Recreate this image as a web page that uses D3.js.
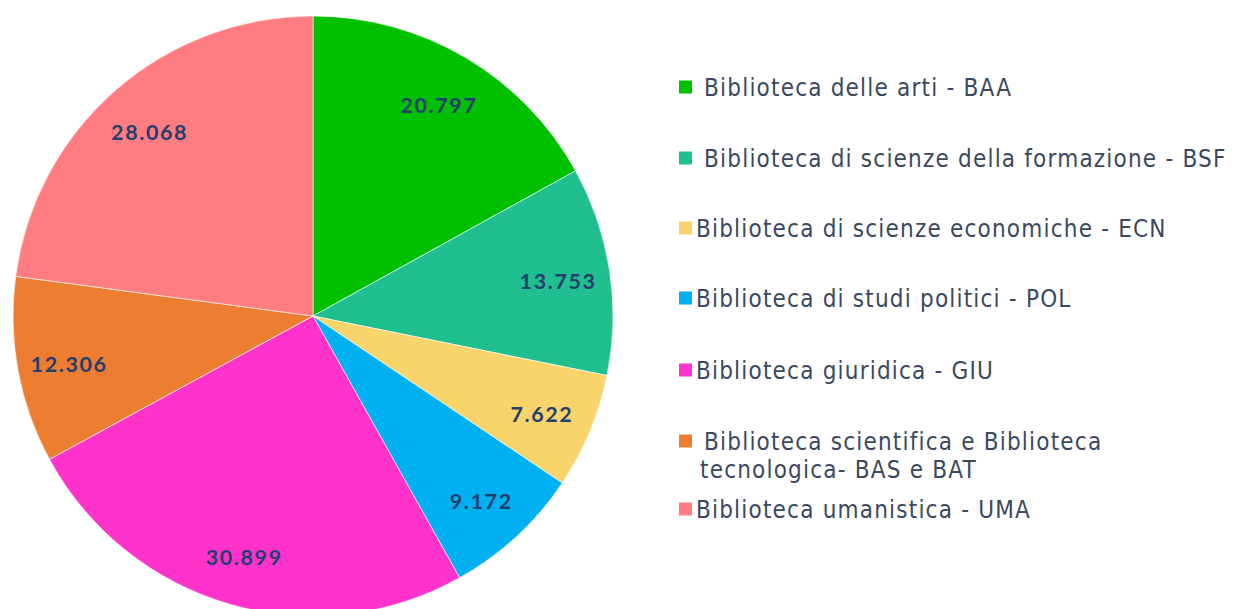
<!DOCTYPE html>
<html><head><meta charset="utf-8">
<script src="https://cdn.jsdelivr.net/npm/d3@7"></script>
<style>body{margin:0;background:#fff;}svg{display:block;}</style>
</head><body>
<svg id="c" width="1234" height="609"></svg>
<script>
const categories = [
  "Biblioteca delle arti - BAA",
  "Biblioteca di scienze della formazione - BSF",
  "Biblioteca di scienze economiche - ECN",
  "Biblioteca di studi politici - POL",
  "Biblioteca giuridica - GIU",
  "Biblioteca scientifica e Biblioteca tecnologica- BAS e BAT",
  "Biblioteca umanistica - UMA"
];
const legendLines = [
  [" Biblioteca delle arti - BAA"],
  [" Biblioteca di scienze della formazione - BSF"],
  ["Biblioteca di scienze economiche - ECN"],
  ["Biblioteca di studi politici - POL"],
  ["Biblioteca giuridica - GIU"],
  [" Biblioteca scientifica e Biblioteca", "tecnologica- BAS e BAT"],
  ["Biblioteca umanistica - UMA"]
];
const values = [20797, 13753, 7622, 9172, 30899, 12306, 28068];
const valueLabels = ["20.797", "13.753", "7.622", "9.172", "30.899", "12.306", "28.068"];
const colors = ["#00c000", "#1fbf8f", "#f9d46b", "#00b0f0", "#ff33cc", "#ed7d31", "#ff7c80"];

const svg = d3.select("#c");
const cx = 313, cy = 316, R = 300, labelR = 248;
const pie = d3.pie().sort(null).value(d => d)(values);
const arc = d3.arc().innerRadius(0).outerRadius(R);
const lArc = d3.arc().innerRadius(labelR).outerRadius(labelR);
const g = svg.append("g").attr("transform", `translate(${cx},${cy})`);
g.selectAll("path").data(pie).join("path")
  .attr("d", arc).attr("fill", (d, i) => colors[i])
  .attr("stroke", "#fff").attr("stroke-width", 0.6);
g.selectAll("text").data(pie).join("text")
  .attr("transform", d => { const c = lArc.centroid(d); return `translate(${c[0]},${c[1] + 3})`; })
  .attr("text-anchor", "middle").attr("dy", "0.36em")
  .attr("font-family", "Lato, sans-serif").attr("font-weight", "bold")
  .attr("font-size", 21.5).attr("letter-spacing", 1.6).attr("fill", "#243f6e")
  .text((d, i) => valueLabels[i]);

// legend
const rowY = [87, 158, 228, 298, 370, 441, 509];
const lg = svg.append("g");
legendLines.forEach((lines, i) => {
  lg.append("rect").attr("x", 679).attr("y", rowY[i] - 6.5).attr("width", 13).attr("height", 13)
    .attr("fill", colors[i]);
  lines.forEach((t, j) => {
    lg.append("text").attr("x", j === 0 ? 696 : 700).attr("y", rowY[i] + j * 28)
      .attr("dy", "0.36em").attr("xml:space", "preserve")
      .style("white-space", "pre")
      .attr("font-family", "'DejaVu Sans Condensed', 'DejaVu Sans', sans-serif")
      .attr("font-size", 24).attr("letter-spacing", 1.2).attr("fill", "#3a4860")
      .text(t);
  });
});
</script>
</body></html>
